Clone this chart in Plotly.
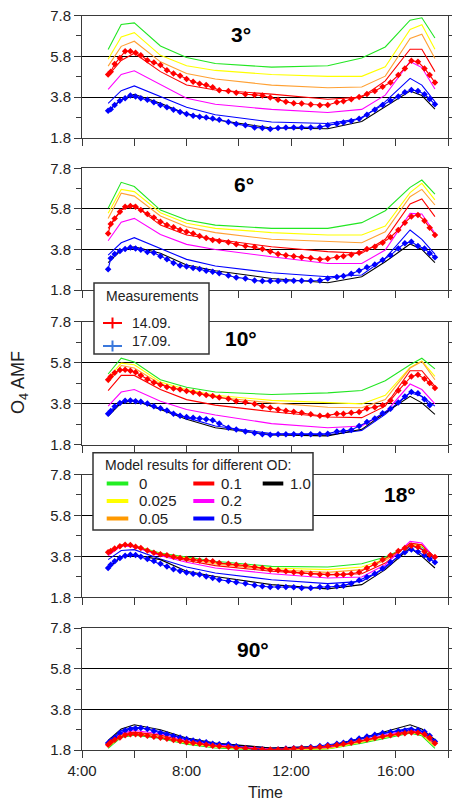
import plotly.graph_objects as go

# ---------------- data ----------------
T_MODEL = [5.0, 5.5, 6.0, 7.0, 8.0, 9.1, 11.25, 13.4, 14.7, 15.6, 16.55, 17.0, 17.5]
OD_LABELS = ["0", "0.025", "0.05", "0.1", "0.2", "0.5", "1.0"]
OD_COLORS = ["#22e622", "#ffff00", "#ffa033", "#ff0000", "#ff00ff", "#0000ff", "#000000"]
OD_LEG_COLORS = ["#22ee22", "#ffff00", "#ff9900", "#ff0000", "#ff00ff", "#0000ff", "#000000"]

# model AMF per OD (order as OD_LABELS)
MOD_03 = [
    [6.13, 7.36, 7.44, 6.31, 5.74, 5.45, 5.27, 5.34, 5.72, 6.26, 7.57, 7.69, 6.70],
    [5.66, 6.75, 6.96, 5.85, 5.34, 5.11, 4.91, 4.82, 4.82, 5.29, 7.12, 7.35, 6.15],
    [5.32, 6.29, 6.54, 5.53, 4.96, 4.69, 4.39, 4.26, 4.30, 4.83, 6.68, 6.88, 5.69],
    [4.85, 5.60, 5.95, 5.05, 4.40, 4.15, 3.95, 3.70, 3.80, 4.60, 6.15, 6.15, 5.05],
    [4.18, 4.91, 5.09, 4.40, 3.75, 3.45, 3.20, 3.05, 3.20, 3.90, 5.55, 5.25, 4.20],
    [3.50, 4.12, 4.35, 3.83, 3.31, 2.94, 2.58, 2.51, 2.77, 3.58, 4.72, 4.39, 3.58],
    [3.13, 3.67, 3.94, 3.50, 2.98, 2.69, 2.29, 2.25, 2.61, 3.34, 4.10, 3.88, 3.21],
]
MOD_06 = [
    [5.83, 7.11, 6.90, 5.74, 5.25, 5.00, 4.84, 4.84, 5.12, 5.71, 6.86, 7.22, 6.53],
    [5.58, 6.76, 6.65, 5.61, 5.09, 4.84, 4.63, 4.51, 4.51, 4.95, 6.60, 7.06, 6.24],
    [5.33, 6.57, 6.43, 5.45, 4.92, 4.63, 4.30, 4.18, 4.13, 4.67, 6.40, 6.76, 5.99],
    [4.84, 5.74, 5.99, 5.00, 4.51, 4.30, 3.93, 3.69, 3.61, 4.30, 6.04, 6.29, 5.42],
    [4.23, 5.14, 5.33, 4.54, 4.05, 3.80, 3.44, 3.11, 3.11, 3.77, 5.58, 5.55, 4.59],
    [3.52, 4.13, 4.38, 3.85, 3.31, 2.98, 2.65, 2.45, 2.54, 3.36, 4.76, 4.30, 3.57],
    [3.15, 3.77, 3.93, 3.61, 3.03, 2.75, 2.37, 2.16, 2.45, 3.19, 4.07, 3.80, 3.15],
]
MOD_10 = [
    [5.24, 6.01, 5.82, 4.96, 4.59, 4.36, 4.24, 4.32, 4.43, 4.91, 5.69, 6.01, 5.49],
    [5.04, 5.77, 5.69, 4.85, 4.48, 4.20, 3.95, 3.83, 3.78, 4.20, 5.56, 5.88, 5.12],
    [4.80, 5.65, 5.53, 4.75, 4.40, 4.11, 3.83, 3.62, 3.59, 3.99, 5.53, 5.85, 4.96],
    [4.43, 5.17, 5.17, 4.48, 3.99, 3.72, 3.40, 3.14, 3.11, 3.67, 5.40, 5.40, 4.64],
    [3.67, 4.36, 4.48, 3.91, 3.51, 3.24, 2.82, 2.62, 2.70, 3.35, 4.75, 4.48, 3.78],
    [3.27, 3.88, 3.95, 3.56, 3.11, 2.70, 2.33, 2.27, 2.49, 3.27, 4.32, 4.15, 3.67],
    [3.19, 3.83, 3.95, 3.51, 3.03, 2.62, 2.27, 2.22, 2.54, 3.35, 4.15, 3.83, 3.27],
]
MOD_18 = [
    [3.96, 4.37, 4.32, 3.96, 3.77, 3.56, 3.31, 3.28, 3.44, 3.77, 4.32, 4.26, 3.77],
    [3.93, 4.36, 4.31, 3.93, 3.72, 3.47, 3.23, 3.15, 3.28, 3.67, 4.37, 4.32, 3.75],
    [3.90, 4.36, 4.30, 3.90, 3.67, 3.43, 3.15, 3.02, 3.15, 3.60, 4.42, 4.35, 3.73],
    [3.87, 4.35, 4.29, 3.87, 3.60, 3.35, 3.07, 2.91, 2.95, 3.47, 4.45, 4.37, 3.72],
    [3.83, 4.32, 4.26, 3.83, 3.51, 3.23, 2.95, 2.74, 2.79, 3.39, 4.53, 4.45, 3.70],
    [3.64, 4.09, 4.13, 3.67, 3.28, 2.99, 2.66, 2.47, 2.58, 3.23, 4.32, 4.16, 3.64],
    [3.23, 3.77, 3.88, 3.64, 3.07, 2.82, 2.42, 2.21, 2.42, 3.15, 4.21, 3.80, 3.23],
]
MOD_90 = [
    [1.88, 2.42, 2.53, 2.37, 2.09, 1.90, 1.77, 1.85, 2.14, 2.39, 2.63, 2.50, 1.88],
    [1.95, 2.47, 2.58, 2.42, 2.14, 1.95, 1.78, 1.87, 2.18, 2.44, 2.68, 2.55, 1.98],
    [2.01, 2.52, 2.63, 2.47, 2.18, 1.98, 1.80, 1.90, 2.21, 2.47, 2.71, 2.60, 2.01],
    [2.06, 2.58, 2.68, 2.53, 2.22, 2.03, 1.82, 1.93, 2.24, 2.50, 2.75, 2.63, 2.11],
    [2.11, 2.63, 2.76, 2.60, 2.27, 2.06, 1.85, 1.95, 2.27, 2.55, 2.80, 2.66, 2.14],
    [2.18, 2.76, 2.93, 2.71, 2.34, 2.11, 1.90, 1.98, 2.34, 2.63, 2.88, 2.71, 2.22],
    [2.27, 2.83, 3.04, 2.80, 2.39, 2.14, 1.90, 1.98, 2.39, 2.71, 3.04, 2.83, 2.31],
]

T_MEAS = [5.0, 5.1, 5.25, 5.45, 5.65, 5.85, 6.05, 6.25, 6.5, 6.75, 7.0, 7.25, 7.5, 7.75,
          8.0, 8.25, 8.5, 8.75, 9.0, 9.25, 9.6, 9.9, 10.25, 10.6, 10.9, 11.2, 11.5, 11.8,
          12.1, 12.4, 12.75, 13.1, 13.4, 13.75, 14.0, 14.3, 14.6, 14.9, 15.2, 15.5, 15.8,
          16.1, 16.35, 16.6, 16.85, 17.1, 17.3, 17.5]

M1409_03 = [4.91, 5.05, 5.42, 5.72, 6.05, 6.05, 5.97, 5.85, 5.61, 5.50, 5.37, 5.12, 4.96, 4.85,
            4.69, 4.56, 4.46, 4.39, 4.28, 4.14, 4.10, 4.02, 3.94, 3.91, 3.88, 3.78, 3.67, 3.57,
            3.50, 3.49, 3.44, 3.41, 3.42, 3.55, 3.60, 3.70, 3.81, 3.96, 4.10, 4.31, 4.52,
            4.88, 5.21, 5.58, 5.53, 5.21, 4.88, 4.52]
M1709_03 = [3.13, 3.21, 3.42, 3.62, 3.75, 3.88, 3.83, 3.75, 3.67, 3.55, 3.42, 3.31, 3.18, 3.07,
            2.97, 2.89, 2.84, 2.81, 2.76, 2.69, 2.58, 2.48, 2.42, 2.32, 2.29, 2.24, 2.29, 2.32,
            2.32, 2.32, 2.32, 2.34, 2.42, 2.50, 2.56, 2.63, 2.74, 2.94, 3.18, 3.42, 3.62,
            3.83, 4.04, 4.15, 4.10, 3.94, 3.71, 3.45]
M1409_06 = [4.59, 5.05, 5.33, 5.66, 5.91, 5.94, 5.91, 5.74, 5.55, 5.37, 5.17, 5.00, 4.89, 4.76,
            4.67, 4.59, 4.46, 4.36, 4.26, 4.21, 4.15, 4.05, 3.97, 3.92, 3.82, 3.70, 3.57, 3.51,
            3.46, 3.41, 3.38, 3.31, 3.34, 3.42, 3.47, 3.54, 3.64, 3.82, 3.93, 4.13, 4.40,
            4.76, 5.12, 5.42, 5.50, 5.22, 4.87, 4.51]
M1709_06 = [2.82, 3.36, 3.57, 3.72, 3.82, 3.90, 3.85, 3.79, 3.67, 3.64, 3.47, 3.31, 3.13, 3.01,
            2.96, 2.88, 2.83, 2.75, 2.70, 2.63, 2.52, 2.42, 2.37, 2.27, 2.24, 2.24, 2.24, 2.26,
            2.26, 2.26, 2.26, 2.27, 2.37, 2.44, 2.49, 2.60, 2.75, 2.92, 3.06, 3.28, 3.51,
            3.85, 4.10, 4.18, 3.97, 3.84, 3.61, 3.41]
M1409_10 = [4.96, 5.12, 5.30, 5.43, 5.45, 5.40, 5.32, 5.17, 4.98, 4.83, 4.72, 4.61, 4.53, 4.48,
            4.41, 4.35, 4.27, 4.22, 4.17, 4.09, 4.03, 3.91, 3.86, 3.78, 3.67, 3.59, 3.51, 3.45,
            3.40, 3.35, 3.27, 3.20, 3.22, 3.30, 3.30, 3.35, 3.38, 3.56, 3.62, 3.72, 3.95,
            4.43, 4.80, 5.12, 5.20, 5.01, 4.80, 4.56]
M1709_10 = [3.30, 3.43, 3.65, 3.82, 3.93, 3.95, 3.91, 3.88, 3.80, 3.67, 3.57, 3.46, 3.30, 3.20,
            3.14, 3.11, 3.07, 3.03, 2.98, 2.82, 2.62, 2.53, 2.43, 2.36, 2.30, 2.27, 2.30, 2.30,
            2.30, 2.30, 2.30, 2.30, 2.33, 2.43, 2.46, 2.51, 2.70, 2.90, 3.07, 3.32, 3.54,
            3.85, 4.14, 4.36, 4.30, 4.01, 3.72, None]
M1409_18 = [4.00, 4.06, 4.19, 4.30, 4.37, 4.35, 4.27, 4.21, 4.09, 3.98, 3.90, 3.85, 3.78, 3.72,
            3.67, 3.64, 3.60, 3.60, 3.56, 3.47, 3.44, 3.39, 3.35, 3.28, 3.23, 3.15, 3.12, 3.07,
            3.02, 2.99, 2.95, 2.91, 2.91, 2.91, 2.91, 2.95, 3.02, 3.23, 3.41, 3.64, 3.85,
            4.06, 4.21, 4.32, 4.26, 4.04, 3.88, 3.77]
M1709_18 = [3.23, 3.39, 3.56, 3.72, 3.83, 3.88, 3.87, 3.78, 3.67, 3.57, 3.44, 3.31, 3.17, 3.09,
            3.01, 2.95, 2.91, 2.82, 2.74, 2.66, 2.60, 2.53, 2.47, 2.39, 2.34, 2.30, 2.30, 2.30,
            2.29, 2.26, 2.26, 2.30, 2.30, 2.34, 2.37, 2.48, 2.63, 2.79, 2.95, 3.21, 3.51,
            3.80, 4.00, 4.13, 4.03, 3.85, 3.67, 3.51]
M1409_90 = [2.06, 2.18, 2.31, 2.42, 2.53, 2.58, 2.58, 2.55, 2.50, 2.45, 2.40, 2.35, 2.29, 2.24,
            2.18, 2.14, 2.11, 2.06, 2.01, 1.98, 1.95, 1.90, 1.88, 1.85, 1.83, 1.82, 1.83, 1.85,
            1.87, 1.90, 1.91, 1.95, 2.00, 2.04, 2.09, 2.16, 2.24, 2.32, 2.39, 2.47, 2.52,
            2.57, 2.62, 2.66, 2.65, 2.57, 2.40, 2.13]
M1709_90 = [2.14, 2.26, 2.42, 2.63, 2.76, 2.83, 2.86, 2.88, 2.83, 2.73, 2.65, 2.57, 2.49, 2.42,
            2.34, 2.27, 2.22, 2.18, 2.11, 2.08, 2.08, 1.98, 1.90, 1.83, 1.82, 1.80, 1.82, 1.87,
            1.88, 1.91, 1.95, 2.00, 2.04, 2.11, 2.16, 2.27, 2.37, 2.47, 2.55, 2.63, 2.68,
            2.73, 2.76, 2.81, 2.78, 2.70, 2.50, 2.22]

PANEL_LABELS = ["3°", "6°", "10°", "18°", "90°"]
PANEL_MODELS = [MOD_03, MOD_06, MOD_10, MOD_18, MOD_90]
PANEL_M1409 = [M1409_03, M1409_06, M1409_10, M1409_18, M1409_90]
PANEL_M1709 = [M1709_03, M1709_06, M1709_10, M1709_18, M1709_90]
# label position (time, AMF) inside each panel
LABEL_POS = [(10.08, 6.89), (10.2, 6.98), (10.1, 6.95), (16.17, 6.84), (10.54, 6.75)]

Y_TICKS = [1.8, 3.8, 5.8, 7.8]
Y_MINOR = [2.8, 4.8, 6.8]
X_TICKS = [4, 8, 12, 16]
X_TICKTEXT = ["4:00", "8:00", "12:00", "16:00"]
X_MINOR = [6, 10, 14, 18]

# ---------------- layout geometry ----------------
W, H = 452, 802
ML, MR, MT, MB = 82, 4, 15, 52
PW, PH = W - ML - MR, H - MT - MB
# panel (top px, bottom px)
PANEL_PX = [(15.5, 138), (168.3, 290), (321.5, 444.5), (474.5, 597.3), (628, 750)]

def px(x):
    return (x - ML) / PW

def py(y):
    return (H - MB - y) / PH

def clamp(v):
    return max(0.0, min(1.0, v))

FONT = "Liberation Sans, Arial, sans-serif"
AXCOL = "#3a3a3a"

fig = go.Figure()
layout = dict(
    width=W, height=H,
    margin=dict(l=ML, r=MR, t=MT, b=MB, pad=0, autoexpand=False),
    paper_bgcolor="white", plot_bgcolor="white",
    showlegend=False,
    font=dict(family=FONT, size=15, color="#222"),
)

annotations = []
for i in range(5):
    n = i + 1
    xs = "x" if n == 1 else f"x{n}"
    ys = "y" if n == 1 else f"y{n}"
    xk = "xaxis" if n == 1 else f"xaxis{n}"
    yk = "yaxis" if n == 1 else f"yaxis{n}"
    top, bot = PANEL_PX[i]
    last = (n == 5)
    layout[xk] = dict(
        domain=[0, 1], anchor=ys, range=[4, 18], automargin=False,
        tickmode="array", tickvals=X_TICKS, ticktext=X_TICKTEXT,
        showticklabels=last, ticks="outside", ticklen=7, tickwidth=1, tickcolor=AXCOL,
        minor=dict(tickmode="array", tickvals=X_MINOR, ticks="outside", ticklen=7,
                   tickcolor=AXCOL, showgrid=False),
        showline=True, linecolor=AXCOL, linewidth=1, mirror=True,
        showgrid=False, zeroline=False,
        tickfont=dict(size=15, family=FONT, color="#222"),
    )
    layout[yk] = dict(
        domain=[clamp(py(bot)), clamp(py(top))], anchor=xs, range=[1.8, 7.8],
        automargin=False,
        tickmode="array", tickvals=Y_TICKS, ticktext=[f"{v:.1f}" for v in Y_TICKS],
        ticks="outside", ticklen=7, tickwidth=1, tickcolor=AXCOL,
        minor=dict(tickmode="array", tickvals=Y_MINOR, ticks="outside", ticklen=5,
                   tickcolor=AXCOL, showgrid=False),
        showline=True, linecolor=AXCOL, linewidth=1, mirror="ticks",
        showgrid=True, gridcolor="#000000", gridwidth=1, zeroline=False,
        tickfont=dict(size=15, family=FONT, color="#222"),
    )
    # model curves
    for k, vals in enumerate(PANEL_MODELS[i]):
        fig.add_trace(go.Scatter(
            x=T_MODEL, y=vals, mode="lines", xaxis=xs, yaxis=ys,
            line=dict(color=OD_COLORS[k], width=1.1), name=OD_LABELS[k], hoverinfo="skip"))
    # measurements
    for vals, col in ((PANEL_M1709[i], "#0000ff"), (PANEL_M1409[i], "#ff0000")):
        fig.add_trace(go.Scatter(
            x=T_MEAS, y=vals, mode="lines+markers", xaxis=xs, yaxis=ys,
            line=dict(color=col, width=1.1),
            marker=dict(symbol="diamond", size=5, color=col),
            connectgaps=False, hoverinfo="skip"))
    lx, ly = LABEL_POS[i]
    annotations.append(dict(
        x=lx, y=ly, xref=xs, yref=ys, text=f"<b>{PANEL_LABELS[i]}</b>",
        showarrow=False, font=dict(size=21, family=FONT, color="#000"),
        xanchor="center", yanchor="middle"))

# axis titles
annotations.append(dict(x=px(20), y=py(383), xref="paper", yref="paper",
                        text="O<sub>4</sub> AMF", textangle=-90, showarrow=False,
                        font=dict(size=18, family=FONT, color="#222"),
                        xanchor="center", yanchor="middle"))
annotations.append(dict(x=px(265), y=py(792), xref="paper", yref="paper",
                        text="Time", showarrow=False,
                        font=dict(size=16, family=FONT, color="#222"),
                        xanchor="center", yanchor="middle"))

shapes = []
# ---- Measurements legend box ----
shapes.append(dict(type="rect", xref="paper", yref="paper", layer="above",
                   x0=px(94), x1=px(209), y0=py(354), y1=py(283),
                   line=dict(color="#333", width=1.5), fillcolor="white"))
annotations.append(dict(x=px(152), y=py(295.5), xref="paper", yref="paper",
                        text="Measurements", showarrow=False,
                        font=dict(size=14, family=FONT, color="#222"),
                        xanchor="center", yanchor="middle"))
for (ycross, ytext, col, lab) in ((323, 322.5, "#ff0000", "14.09."),
                                  (346, 341.5, "#3a78dc", "17.09.")):
    shapes.append(dict(type="line", xref="paper", yref="paper", layer="above",
                       x0=px(103), x1=px(122), y0=py(ycross), y1=py(ycross),
                       line=dict(color=col, width=2)))
    shapes.append(dict(type="line", xref="paper", yref="paper", layer="above",
                       x0=px(112.5), x1=px(112.5), y0=py(ycross - 5.5), y1=py(ycross + 5.5),
                       line=dict(color=col, width=2)))
    annotations.append(dict(x=px(130), y=py(ytext), xref="paper", yref="paper",
                            text=lab, showarrow=False,
                            font=dict(size=14, family=FONT, color="#222"),
                            xanchor="left", yanchor="middle"))

# ---- Model legend box ----
shapes.append(dict(type="rect", xref="paper", yref="paper", layer="above",
                   x0=px(93), x1=px(313), y0=py(530), y1=py(452.7),
                   line=dict(color="#333", width=1.5), fillcolor="white"))
annotations.append(dict(x=px(103), y=py(465.5), xref="paper", yref="paper",
                        text="Model results for different OD:", showarrow=False,
                        font=dict(size=14, family=FONT, color="#222"),
                        xanchor="left", yanchor="middle"))
COLS = [(106.7, 128.3, 137), (193.3, 214.3, 219), (262.7, 283.3, 288)]
ROWS = [483.5, 501, 518.5]
for k, lab in enumerate(OD_LABELS):
    c, r = k // 3, k % 3
    x0, x1, xt = COLS[c]
    yy = ROWS[r]
    shapes.append(dict(type="line", xref="paper", yref="paper", layer="above",
                       x0=px(x0), x1=px(x1), y0=py(yy), y1=py(yy),
                       line=dict(color=OD_LEG_COLORS[k], width=4)))
    annotations.append(dict(x=px(xt), y=py(yy), xref="paper", yref="paper",
                            text=lab, showarrow=False,
                            font=dict(size=15, family=FONT, color="#222"),
                            xanchor="left", yanchor="middle"))

layout["annotations"] = annotations
layout["shapes"] = shapes
fig.update_layout(**layout)
fig.write_html(
    "out.html",
    config={"displayModeBar": False, "staticPlot": True},
    post_script="document.body.style.margin='0';document.body.style.padding='0';",
)
